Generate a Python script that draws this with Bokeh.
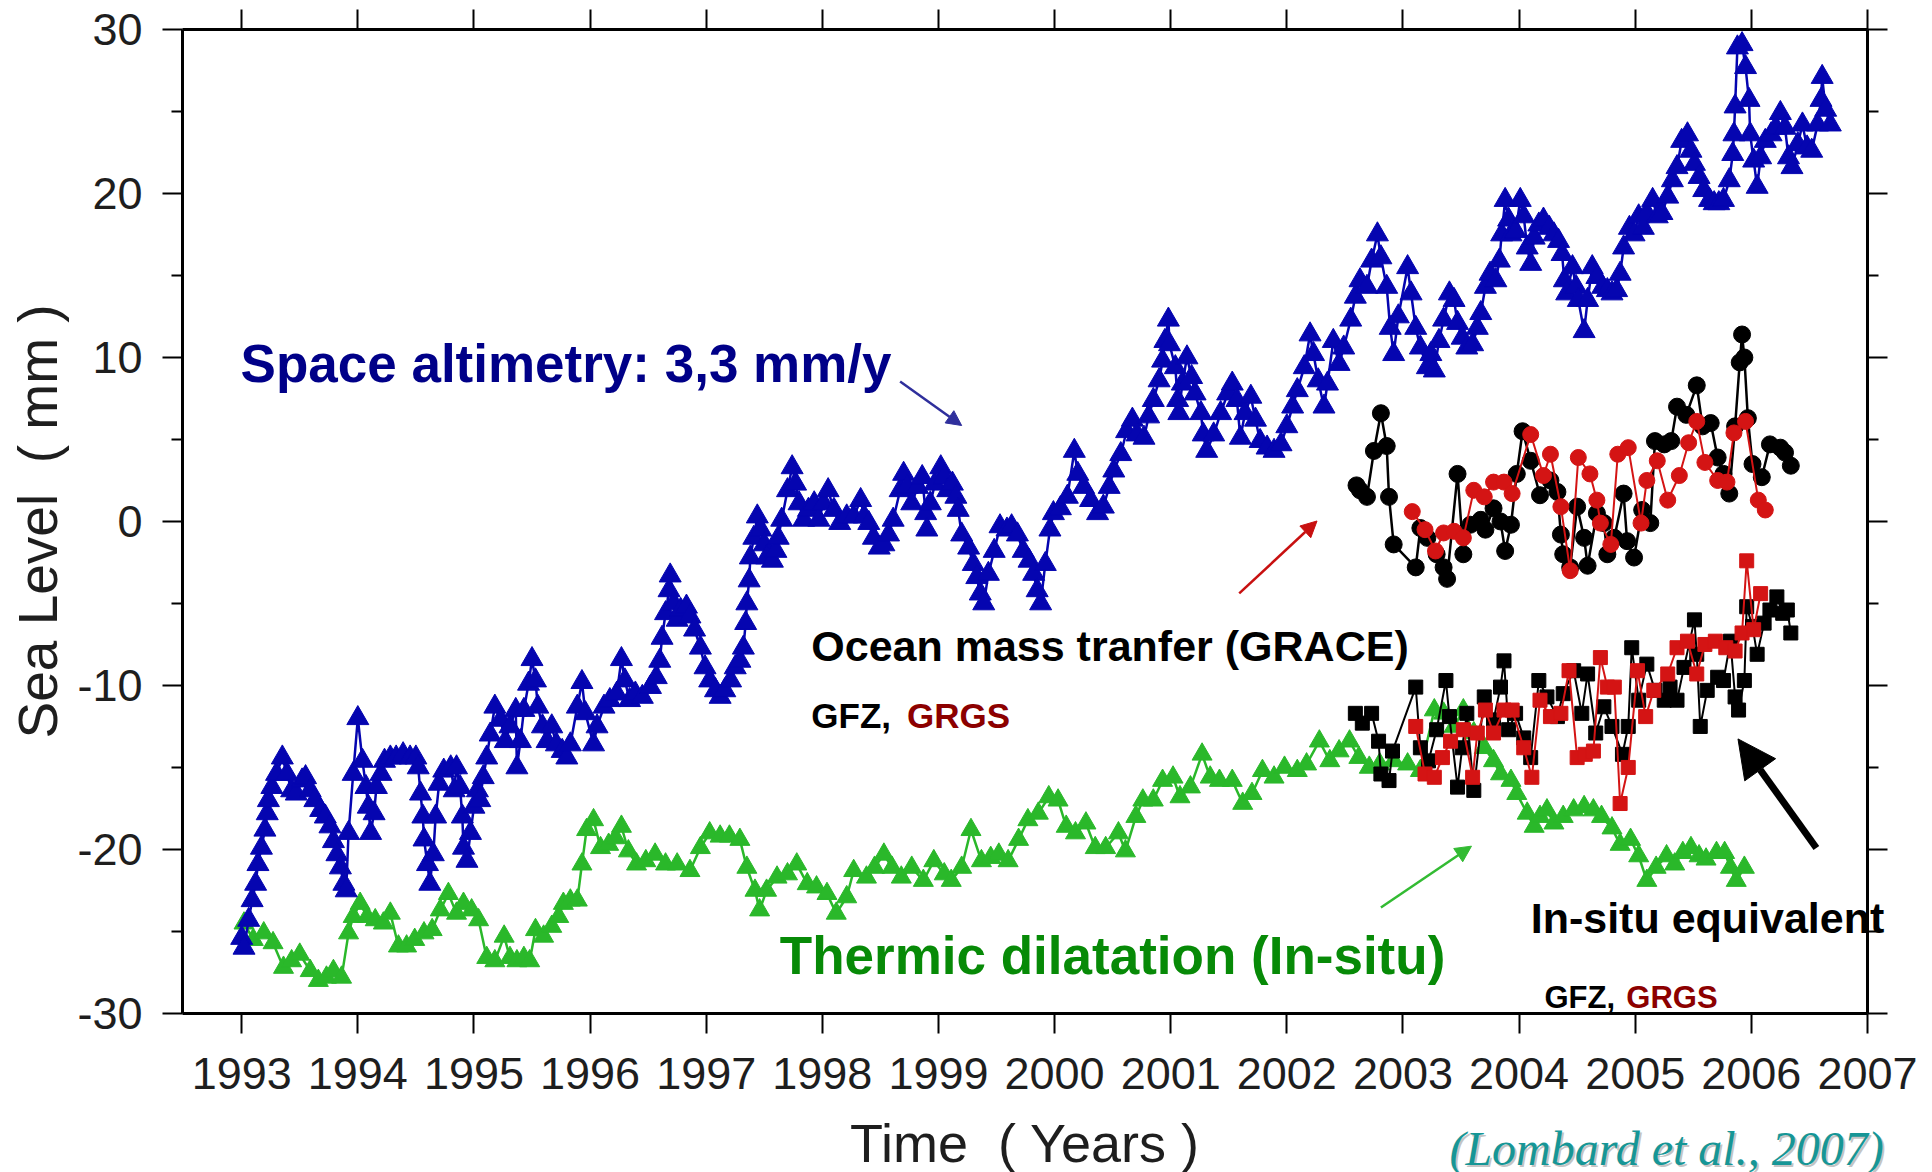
import math
from bokeh.plotting import figure
from bokeh.models import Label, Arrow, NormalHead, LinearAxis, FixedTicker, Range1d
from bokeh.embed import file_html
from bokeh.resources import INLINE

# ---------------- data ----------------
year_ticks = [1993, 1994, 1995, 1996, 1997, 1998, 1999, 2000, 2001, 2002, 2003, 2004, 2005, 2006, 2007]
mm_ticks = [-30, -20, -10, 0, 10, 20, 30]
mm_minor = [-25, -15, -5, 5, 15, 25]

# Space altimetry (blue triangles)
alt_year = [1993.00, 1993.02, 1993.06, 1993.09, 1993.12, 1993.14, 1993.17, 1993.20, 1993.22, 1993.23,
            1993.26, 1993.30, 1993.35, 1993.39, 1993.43, 1993.47, 1993.52, 1993.55, 1993.59, 1993.63,
            1993.68, 1993.72, 1993.76, 1993.79, 1993.82, 1993.85, 1993.88, 1993.90, 1993.92, 1993.96,
            1994.00, 1994.04, 1994.07, 1994.09, 1994.11, 1994.14, 1994.16, 1994.20, 1994.23, 1994.28,
            1994.33, 1994.39, 1994.45, 1994.50, 1994.52, 1994.54, 1994.56, 1994.57, 1994.60, 1994.62,
            1994.65, 1994.67, 1994.70, 1994.74, 1994.80, 1994.83, 1994.85, 1994.88, 1994.90, 1994.91,
            1994.94, 1994.97, 1995.00, 1995.03, 1995.05, 1995.08, 1995.11, 1995.14, 1995.18, 1995.23,
            1995.27, 1995.31, 1995.36, 1995.37, 1995.40, 1995.43, 1995.47, 1995.50, 1995.53, 1995.55,
            1995.59, 1995.63, 1995.67, 1995.71, 1995.76, 1995.80, 1995.83, 1995.89, 1995.93, 1995.96,
            1996.03, 1996.06, 1996.12, 1996.17, 1996.23, 1996.27, 1996.30, 1996.34, 1996.39, 1996.45,
            1996.52, 1996.57, 1996.60, 1996.62, 1996.65, 1996.68, 1996.69, 1996.72, 1996.75, 1996.78,
            1996.83, 1996.86, 1996.90, 1996.95, 1996.99, 1997.03, 1997.08, 1997.12, 1997.16, 1997.21,
            1997.25, 1997.29, 1997.32, 1997.34, 1997.35, 1997.37, 1997.38, 1997.41, 1997.44, 1997.47,
            1997.50, 1997.52, 1997.57, 1997.60, 1997.62, 1997.65, 1997.70, 1997.74, 1997.77, 1997.80,
            1997.84, 1997.88, 1997.93, 1997.97, 1998.01, 1998.05, 1998.10, 1998.15, 1998.21, 1998.27,
            1998.33, 1998.36, 1998.40, 1998.44, 1998.49, 1998.53, 1998.57, 1998.61, 1998.67, 1998.70,
            1998.73, 1998.77, 1998.82, 1998.86, 1998.89, 1998.90, 1998.93, 1998.97, 1999.02, 1999.05,
            1999.08, 1999.12, 1999.15, 1999.17, 1999.20, 1999.26, 1999.30, 1999.33, 1999.36, 1999.39,
            1999.43, 1999.48, 1999.53, 1999.59, 1999.63, 1999.68, 1999.73, 1999.78, 1999.82, 1999.85,
            1999.88, 1999.92, 1999.96, 1999.99, 2000.05, 2000.11, 2000.17, 2000.20, 2000.25, 2000.31,
            2000.37, 2000.42, 2000.47, 2000.51, 2000.57, 2000.62, 2000.67, 2000.71, 2000.77, 2000.81,
            2000.85, 2000.90, 2000.93, 2000.95, 2000.98, 2000.99, 2001.04, 2001.06, 2001.07, 2001.10,
            2001.14, 2001.18, 2001.21, 2001.26, 2001.28, 2001.31, 2001.37, 2001.43, 2001.49, 2001.53,
            2001.57, 2001.60, 2001.64, 2001.69, 2001.73, 2001.77, 2001.83, 2001.89, 2001.95, 2002.00,
            2002.05, 2002.09, 2002.15, 2002.20, 2002.23, 2002.27, 2002.32, 2002.35, 2002.40, 2002.45,
            2002.49, 2002.55, 2002.59, 2002.63, 2002.69, 2002.73, 2002.78, 2002.81, 2002.86, 2002.89,
            2002.92, 2002.96, 2003.04, 2003.07, 2003.11, 2003.15, 2003.21, 2003.24, 2003.27, 2003.31,
            2003.35, 2003.40, 2003.44, 2003.47, 2003.51, 2003.55, 2003.60, 2003.64, 2003.67, 2003.71,
            2003.75, 2003.80, 2003.83, 2003.85, 2003.88, 2003.91, 2003.93, 2003.97, 2004.01, 2004.04,
            2004.07, 2004.10, 2004.13, 2004.17, 2004.21, 2004.26, 2004.30, 2004.34, 2004.37, 2004.39,
            2004.41, 2004.46, 2004.49, 2004.51, 2004.56, 2004.59, 2004.63, 2004.67, 2004.72, 2004.76,
            2004.80, 2004.84, 2004.87, 2004.90, 2004.95, 2004.99, 2005.03, 2005.07, 2005.10, 2005.15,
            2005.19, 2005.23, 2005.28, 2005.32, 2005.36, 2005.40, 2005.45, 2005.48, 2005.51, 2005.55,
            2005.59, 2005.64, 2005.68, 2005.72, 2005.76, 2005.81, 2005.84, 2005.85, 2005.86, 2005.88,
            2005.92, 2005.95, 2005.98, 2005.99, 2006.02, 2006.05, 2006.08, 2006.12, 2006.17, 2006.21,
            2006.25, 2006.29, 2006.32, 2006.35, 2006.40, 2006.44, 2006.48, 2006.52, 2006.57, 2006.60,
            2006.61, 2006.64, 2006.68]
alt_mm = [-25.4, -26.0, -24.3, -23.1, -22.1, -20.9, -19.9, -18.8, -17.8, -17.0,
          -16.2, -15.4, -14.4, -15.4, -16.4, -16.6, -15.8, -15.6, -16.4, -17.0,
          -17.6, -18.0, -18.6, -19.5, -20.3, -21.1, -22.1, -22.5, -19.0, -15.4,
          -12.0, -14.6, -16.2, -17.4, -19.0, -17.8, -16.2, -15.4, -14.6, -14.4,
          -14.4, -14.2, -14.4, -14.4, -15.0, -16.6, -18.0, -19.4, -20.9, -22.1,
          -20.3, -18.0, -16.0, -15.2, -15.0, -16.4, -15.0, -16.2, -18.0, -19.9,
          -20.7, -19.0, -17.4, -16.4, -17.0, -15.6, -14.4, -13.0, -11.3, -12.1,
          -13.4, -12.5, -11.5, -15.0, -13.4, -11.5, -9.9, -8.4, -9.7, -11.3,
          -12.5, -13.4, -12.5, -13.6, -14.0, -14.4, -13.6, -11.3, -9.8, -11.7,
          -13.6, -12.5, -11.3, -10.9, -10.5, -8.4, -9.7, -10.9, -10.5, -10.7,
          -10.1, -9.5, -8.5, -7.1, -5.6, -4.2, -3.3, -5.0, -6.0, -5.4,
          -5.2, -5.8, -6.6, -7.7, -8.9, -9.7, -10.3, -10.7, -10.3, -9.7,
          -8.9, -8.5, -7.7, -6.2, -5.0, -3.6, -2.2, -1.0, 0.3, -0.5,
          -1.4, -2.2, -2.4, -1.8, -1.0, 0.1, 1.9, 3.3, 2.3, 1.1,
          0.1, 0.7, 1.1, 0.1, 1.1, 1.9, 0.7, -0.1, 0.3, 0.3,
          1.3, 0.3, -0.1, -1.0, -1.6, -1.4, -0.8, 0.1, 1.9, 2.9,
          2.1, 1.1, 2.1, 2.7, 0.5, -0.5, 1.1, 2.3, 3.3, 2.7,
          1.9, 2.3, 1.5, 0.7, -0.8, -1.6, -2.6, -3.4, -4.4, -5.0,
          -3.2, -1.8, -0.3, -0.5, -0.3, -0.8, -1.8, -2.4, -3.2, -4.2,
          -5.0, -2.6, -0.5, 0.5, 0.8, 1.5, 4.3, 2.9, 2.1, 1.3,
          0.5, 0.9, 2.1, 3.1, 4.1, 5.5, 6.2, 5.3, 5.1, 6.4,
          7.4, 8.6, 9.8, 11.0, 12.3, 10.8, 9.4, 7.4, 6.6, 8.4,
          10.0, 8.8, 7.8, 6.6, 5.3, 4.3, 5.3, 6.6, 7.8, 8.4,
          7.4, 5.1, 6.6, 7.6, 6.2, 4.9, 4.5, 4.3, 4.7, 5.8,
          7.0, 8.0, 9.4, 11.4, 10.2, 8.6, 7.0, 8.4, 11.0, 9.6,
          10.6, 12.3, 13.7, 14.7, 14.3, 15.9, 17.5, 16.1, 14.3, 11.8,
          10.2, 12.5, 15.5, 13.9, 11.8, 10.6, 9.4, 10.2, 9.2, 11.0,
          12.3, 13.9, 13.5, 12.1, 11.2, 10.6, 10.8, 11.8, 12.7, 14.3,
          15.1, 14.7, 15.9, 17.5, 19.6, 18.4, 17.5, 17.7, 19.6, 18.6,
          16.7, 15.7, 17.3, 18.1, 18.4, 17.9, 17.5, 17.1, 16.3, 14.7,
          13.9, 15.5, 14.3, 13.5, 11.6, 13.5, 15.5, 14.9, 14.3, 14.1,
          13.9, 14.1, 15.1, 16.7, 17.9, 17.5, 18.6, 17.9, 18.8, 19.6,
          18.6, 18.8, 19.8, 20.8, 21.6, 23.2, 23.6, 22.6, 21.8, 21.0,
          20.2, 19.6, 19.4, 19.4, 19.6, 20.8, 22.4, 23.6, 25.3, 28.9,
          29.1, 27.7, 25.7, 23.6, 22.0, 20.4, 22.2, 23.2, 23.6, 24.0,
          24.9, 24.0, 22.2, 21.6, 23.0, 24.2, 22.8, 22.6, 24.2, 25.7,
          27.1, 25.1, 24.2]

# Thermic dilatation (green triangles)
thermo_year = [1993.02, 1993.10, 1993.19, 1993.27, 1993.36, 1993.43, 1993.50, 1993.59, 1993.66, 1993.73,
               1993.79, 1993.86, 1993.92, 1993.96, 1994.02, 1994.08, 1994.15, 1994.22, 1994.28, 1994.35,
               1994.42, 1994.49, 1994.57, 1994.64, 1994.71, 1994.78, 1994.85, 1994.91, 1994.98, 1995.04,
               1995.11, 1995.18, 1995.26, 1995.31, 1995.37, 1995.43, 1995.48, 1995.53, 1995.60, 1995.67,
               1995.73, 1995.77, 1995.83, 1995.89, 1995.93, 1995.97, 1996.03, 1996.09, 1996.16, 1996.22,
               1996.27, 1996.33, 1996.40, 1996.48, 1996.56, 1996.65, 1996.75, 1996.86, 1996.95, 1997.03,
               1997.12, 1997.20, 1997.29, 1997.35, 1997.42, 1997.46, 1997.52, 1997.61, 1997.70, 1997.78,
               1997.87, 1997.95, 1998.04, 1998.12, 1998.21, 1998.27, 1998.38, 1998.45, 1998.53, 1998.60,
               1998.68, 1998.77, 1998.87, 1998.96, 1999.05, 1999.11, 1999.20, 1999.28, 1999.37, 1999.45,
               1999.52, 1999.60, 1999.69, 1999.77, 1999.86, 1999.95, 2000.03, 2000.10, 2000.18, 2000.27,
               2000.35, 2000.44, 2000.55, 2000.61, 2000.70, 2000.76, 2000.85, 2000.93, 2001.02, 2001.08,
               2001.17, 2001.27, 2001.34, 2001.42, 2001.53, 2001.62, 2001.70, 2001.79, 2001.89, 2001.98,
               2002.09, 2002.17, 2002.28, 2002.37, 2002.45, 2002.54, 2002.62, 2002.71, 2002.80, 2002.92,
               2003.04, 2003.15, 2003.27, 2003.35, 2003.44, 2003.52, 2003.61, 2003.70, 2003.78, 2003.84,
               2003.93, 2003.98, 2004.07, 2004.13, 2004.18, 2004.24, 2004.30, 2004.38, 2004.47, 2004.56,
               2004.64, 2004.71, 2004.80, 2004.87, 2004.96, 2005.03, 2005.10, 2005.18, 2005.27, 2005.34,
               2005.41, 2005.48, 2005.55, 2005.61, 2005.70, 2005.77, 2005.82, 2005.87, 2005.94]
thermo_mm = [-24.5, -25.5, -25.1, -25.7, -27.2, -26.8, -26.4, -27.4, -28.0, -27.8,
             -27.4, -27.8, -25.1, -24.1, -23.3, -24.1, -24.3, -24.5, -23.9, -25.9,
             -25.9, -25.5, -25.1, -24.9, -23.7, -22.7, -23.9, -23.3, -23.7, -24.3,
             -26.6, -26.8, -25.3, -26.6, -26.8, -26.6, -26.8, -24.9, -25.3, -24.7,
             -24.1, -23.3, -23.1, -23.1, -20.9, -18.8, -18.2, -19.9, -19.7, -19.3,
             -18.6, -20.1, -20.9, -20.7, -20.3, -20.9, -20.9, -21.3, -19.9, -19.0,
             -19.2, -19.2, -19.4, -21.1, -22.5, -23.7, -22.5, -21.7, -21.5, -20.9,
             -22.1, -22.3, -22.7, -23.9, -22.9, -21.3, -21.7, -21.1, -20.3, -21.1,
             -21.7, -21.1, -21.9, -20.7, -21.5, -21.9, -21.1, -18.8, -20.7, -20.5,
             -20.3, -20.7, -19.4, -18.2, -17.8, -16.8, -17.0, -18.6, -19.0, -18.4,
             -19.9, -19.9, -19.0, -20.1, -18.0, -17.0, -17.0, -15.8, -15.6, -16.8,
             -16.2, -14.2, -15.6, -15.8, -15.8, -17.2, -16.6, -15.2, -15.6, -15.0,
             -15.2, -14.8, -13.4, -14.6, -14.0, -13.4, -14.4, -15.0, -14.8, -14.6,
             -14.8, -15.2, -11.5, -11.7, -12.5, -11.5, -12.9, -13.8, -14.6, -15.4,
             -15.8, -16.6, -17.8, -18.6, -18.0, -17.6, -18.4, -18.0, -17.6, -17.4,
             -17.6, -18.0, -18.7, -19.7, -19.4, -20.4, -21.9, -21.1, -20.4, -20.9,
             -20.2, -19.9, -20.4, -20.6, -20.2, -20.2, -21.1, -21.9, -21.1]

# GRACE ocean mass (circles): GFZ black, GRGS red
gfz_year = [2002.60, 2002.63, 2002.69, 2002.75, 2002.81, 2002.86, 2002.88, 2002.92, 2003.11, 2003.15,
            2003.21, 2003.29, 2003.35, 2003.38, 2003.47, 2003.52, 2003.58, 2003.67, 2003.71, 2003.78,
            2003.84, 2003.88, 2003.93, 2003.98, 2004.03, 2004.10, 2004.18, 2004.27, 2004.33, 2004.36,
            2004.38, 2004.44, 2004.50, 2004.56, 2004.59, 2004.67, 2004.73, 2004.76, 2004.82, 2004.90,
            2004.93, 2004.99, 2005.06, 2005.13, 2005.17, 2005.25, 2005.31, 2005.36, 2005.44, 2005.53,
            2005.58, 2005.65, 2005.71, 2005.76, 2005.81, 2005.86, 2005.90, 2005.92, 2005.94, 2005.97,
            2006.01, 2006.09, 2006.16, 2006.25, 2006.29, 2006.34]
gfz_mm = [2.2, 1.9, 1.5, 4.3, 6.6, 4.6, 1.5, -1.4, -2.8, -0.4,
          -1.0, -2.0, -2.8, -3.5, 2.9, -2.0, -0.2, 0.1, -0.5, 0.8,
          0.0, -1.8, -0.2, 2.9, 5.5, 3.7, 1.6, 2.5, 1.8, -0.8,
          -2.0, -2.8, 0.9, -1.0, -2.7, 0.5, -0.1, -2.0, -1.0, 1.7,
          -1.2, -2.2, 0.7, -0.1, 4.9, 4.7, 4.9, 7.0, 6.5, 8.3,
          5.8, 6.0, 3.9, 2.9, 1.7, 5.8, 9.7, 11.4, 10.0, 6.3,
          3.5, 2.7, 4.7, 4.5, 4.2, 3.4]
grgs_year = [2003.08, 2003.19, 2003.28, 2003.35, 2003.44, 2003.52, 2003.61, 2003.70, 2003.78, 2003.87,
             2003.94, 2004.10, 2004.21, 2004.27, 2004.36, 2004.44, 2004.51, 2004.61, 2004.67, 2004.70,
             2004.79, 2004.85, 2004.94, 2005.05, 2005.10, 2005.19, 2005.28, 2005.38, 2005.46, 2005.53,
             2005.60, 2005.71, 2005.79, 2005.85, 2005.95, 2006.06, 2006.12]
grgs_mm = [0.6, -0.5, -1.8, -0.7, -0.6, -1.0, 1.9, 1.5, 2.4, 2.4,
           1.7, 5.3, 2.8, 4.1, 0.9, -3.0, 3.9, 2.9, 1.3, -0.1,
           -1.4, 4.1, 4.5, -0.1, 2.5, 3.7, 1.3, 2.8, 4.8, 6.1,
           3.6, 2.5, 2.4, 5.4, 6.1, 1.3, 0.7]

# In-situ equivalent (squares): GFZ black, GRGS red
eq_gfz_year = [2002.59, 2002.65, 2002.73, 2002.79, 2002.81, 2002.88, 2002.91, 2003.11, 2003.15, 2003.22,
               2003.29, 2003.37, 2003.40, 2003.47, 2003.51, 2003.55, 2003.61, 2003.70, 2003.78, 2003.84,
               2003.87, 2003.91, 2003.97, 2004.04, 2004.10, 2004.17, 2004.24, 2004.33, 2004.38, 2004.47,
               2004.54, 2004.59, 2004.66, 2004.73, 2004.80, 2004.89, 2004.94, 2004.97, 2005.03, 2005.10,
               2005.17, 2005.25, 2005.30, 2005.36, 2005.42, 2005.51, 2005.53, 2005.56, 2005.62, 2005.71,
               2005.76, 2005.82, 2005.86, 2005.89, 2005.94, 2005.96, 2006.01, 2006.05, 2006.11, 2006.16,
               2006.22, 2006.27, 2006.31, 2006.34]
eq_gfz_mm = [-11.7, -12.3, -11.7, -13.4, -15.4, -15.8, -14.0, -10.1, -13.8, -14.6,
             -12.7, -9.7, -11.9, -16.2, -13.8, -11.7, -16.4, -10.7, -12.1, -10.1,
             -8.5, -12.7, -11.7, -13.2, -14.4, -9.7, -10.7, -11.9, -10.5, -9.1,
             -11.7, -9.3, -12.9, -11.3, -12.5, -14.2, -12.5, -7.7, -10.9, -8.7,
             -10.3, -10.9, -10.1, -10.9, -8.9, -6.0, -8.1, -12.5, -10.3, -9.5,
             -9.7, -7.3, -10.7, -11.5, -9.7, -5.2, -6.4, -8.1, -6.2, -5.4,
             -4.6, -5.6, -5.4, -6.8]
eq_grgs_year = [2003.11, 2003.19, 2003.27, 2003.34, 2003.41, 2003.52, 2003.60, 2003.64, 2003.71, 2003.78,
                2003.87, 2003.94, 2004.04, 2004.11, 2004.18, 2004.27, 2004.36, 2004.43, 2004.50, 2004.57,
                2004.64, 2004.70, 2004.76, 2004.82, 2004.87, 2004.94, 2005.02, 2005.09, 2005.16, 2005.28,
                2005.36, 2005.45, 2005.53, 2005.60, 2005.69, 2005.78, 2005.86, 2005.92, 2005.96, 2006.02,
                2006.08]
eq_grgs_mm = [-12.5, -15.4, -15.6, -14.4, -13.4, -12.7, -15.6, -12.9, -11.5, -12.9,
              -11.5, -11.5, -13.8, -15.6, -10.9, -11.9, -11.7, -9.1, -14.4, -14.2,
              -14.0, -8.3, -10.1, -10.1, -17.2, -15.0, -9.1, -11.9, -10.3, -9.3,
              -7.7, -7.3, -9.3, -7.5, -7.3, -7.7, -7.9, -6.8, -2.4, -6.6,
              -4.4]

# ---------------- styling ----------------
BLUE = "#0505b0"
GREEN = "#2ab82a"
RED = "#d41414"
BLACK = "#000000"
FONT = "Liberation Sans"
AXIS_TEXT = "#1e1e1e"

X_START, X_END = 1992.49, 2007.0       # extent of the drawn axes
Y_START, Y_END = -30.0, 30.0

# The frame covers the whole page so that no text is clipped; the four axes are
# pinned at the axis extent (bounds / fixed_location).
p = figure(width=1932, height=1172,
           x_range=Range1d(1990.923, 2007.56), y_range=Range1d(-39.70, 31.768),
           output_backend="svg", toolbar_location=None,
           min_border_left=0, min_border_right=0, min_border_top=0, min_border_bottom=0)
p.outline_line_color = None
p.xgrid.grid_line_color = None
p.ygrid.grid_line_color = None
p.background_fill_color = "white"
p.border_fill_color = "white"

xt = FixedTicker(ticks=year_ticks, minor_ticks=[])
yt = FixedTicker(ticks=mm_ticks, minor_ticks=mm_minor)


def style_axis(ax, show_labels):
    ax.axis_line_width = 3
    ax.axis_line_color = "black"
    ax.major_tick_line_width = 2
    ax.minor_tick_line_width = 2
    ax.major_tick_out = 20
    ax.major_tick_in = 0
    ax.minor_tick_out = 11
    ax.minor_tick_in = 0
    if show_labels:
        ax.major_label_text_font = FONT
        ax.major_label_text_font_size = "45px"
        ax.major_label_text_color = AXIS_TEXT
    else:
        ax.major_label_text_font_size = "1px"
        ax.major_label_text_color = None
        ax.major_label_standoff = 0


xa = p.xaxis[0]
xa.ticker = xt
xa.fixed_location = Y_START
xa.bounds = (X_START, X_END)
style_axis(xa, True)
xa.major_label_overrides = {y: str(y) for y in year_ticks}
xa.major_label_standoff = 25

ya = p.yaxis[0]
ya.ticker = yt
ya.fixed_location = X_START
ya.bounds = (Y_START, Y_END)
style_axis(ya, True)
ya.major_label_overrides = {v: str(v) for v in mm_ticks}
ya.major_label_standoff = 20

top = LinearAxis(ticker=xt, bounds=(X_START, X_END), fixed_location=Y_END)
style_axis(top, False)
p.add_layout(top, "above")

right = LinearAxis(ticker=yt, bounds=(Y_START, Y_END), fixed_location=X_END)
style_axis(right, False)
p.add_layout(right, "right")

# ---------------- series ----------------
p.line(thermo_year, thermo_mm, line_color=GREEN, line_width=2.5)
p.scatter(thermo_year, thermo_mm, marker="triangle", size=20, fill_color=GREEN, line_color=GREEN)

p.line(alt_year, alt_mm, line_color=BLUE, line_width=2.5)
p.scatter(alt_year, alt_mm, marker="triangle", size=22, fill_color=BLUE, line_color=BLUE)

p.line(gfz_year, gfz_mm, line_color=BLACK, line_width=2.5)
p.scatter(gfz_year, gfz_mm, marker="circle", size=17, fill_color=BLACK, line_color=BLACK)
p.line(grgs_year, grgs_mm, line_color=RED, line_width=2)
p.scatter(grgs_year, grgs_mm, marker="circle", size=16, fill_color=RED, line_color=RED)

p.line(eq_gfz_year, eq_gfz_mm, line_color=BLACK, line_width=2)
p.scatter(eq_gfz_year, eq_gfz_mm, marker="square", size=14, fill_color=BLACK, line_color=BLACK)
p.line(eq_grgs_year, eq_grgs_mm, line_color=RED, line_width=2)
p.scatter(eq_grgs_year, eq_grgs_mm, marker="square", size=14, fill_color=RED, line_color=RED)


# ---------------- texts ----------------
def add_text(txt, x, y, size, color, style="bold", font=FONT, align="left", **kw):
    p.add_layout(Label(x=x, y=y, text=txt, text_font=font, text_font_size=f"{size}px",
                       text_font_style=style, text_color=color,
                       text_baseline="middle", text_align=align, **kw))


# axis titles
add_text("Time\u00a0 ( Years )", (X_START + X_END) / 2, -37.93, 54, AXIS_TEXT,
         style="normal", align="center")
add_text("Sea Level\u00a0 ( mm )", 1991.242, (Y_START + Y_END) / 2, 55, AXIS_TEXT,
         style="normal", align="center", angle=math.pi / 2)

add_text("Space altimetry: 3,3 mm/y", 1992.99, 9.66, 53, "#000088")
add_text("Ocean mass tranfer (GRACE)", 1997.905, -7.59, 43, "#000000")
add_text("GFZ,", 1997.905, -11.83, 35, "#000000")
add_text("GRGS", 1998.73, -11.83, 35, "#8c0000")
add_text("Thermic dilatation (In-situ)", 1997.634, -26.46, 53, "#078a07")
add_text("In-situ equivalent", 2004.10, -24.21, 43, "#000000")
add_text("GFZ,", 2004.218, -29.02, 31, "#000000")
add_text("GRGS", 2004.923, -29.02, 31, "#8c0000")
add_text("(Lombard et al., 2007)", 2003.40, -38.23, 48, "#c4c4c4", style="italic",
         font="Liberation Serif", x_offset=2, y_offset=-2)
add_text("(Lombard et al., 2007)", 2003.40, -38.23, 48, "#169696", style="italic",
         font="Liberation Serif")


# ---------------- arrows (added last) ----------------
def add_arrow(x0, y0, x1, y1, color, width, head):
    p.add_layout(Arrow(end=NormalHead(size=head, fill_color=color, line_color=color, line_width=1),
                       x_start=x0, y_start=y0, x_end=x1, y_end=y1,
                       line_color=color, line_width=width))


add_arrow(1998.67, 8.54, 1999.20, 5.85, "#2f2f9c", 2.5, 15)
add_arrow(2001.59, -4.39, 2002.26, 0.03, "#c81010", 2.5, 16)
add_arrow(2002.81, -23.54, 2003.59, -19.80, "#33bb33", 2.5, 16)
add_arrow(2006.56, -19.91, 2005.885, -13.26, "#000000", 7, 38)

open("out.html", "w").write(file_html(p, INLINE))
